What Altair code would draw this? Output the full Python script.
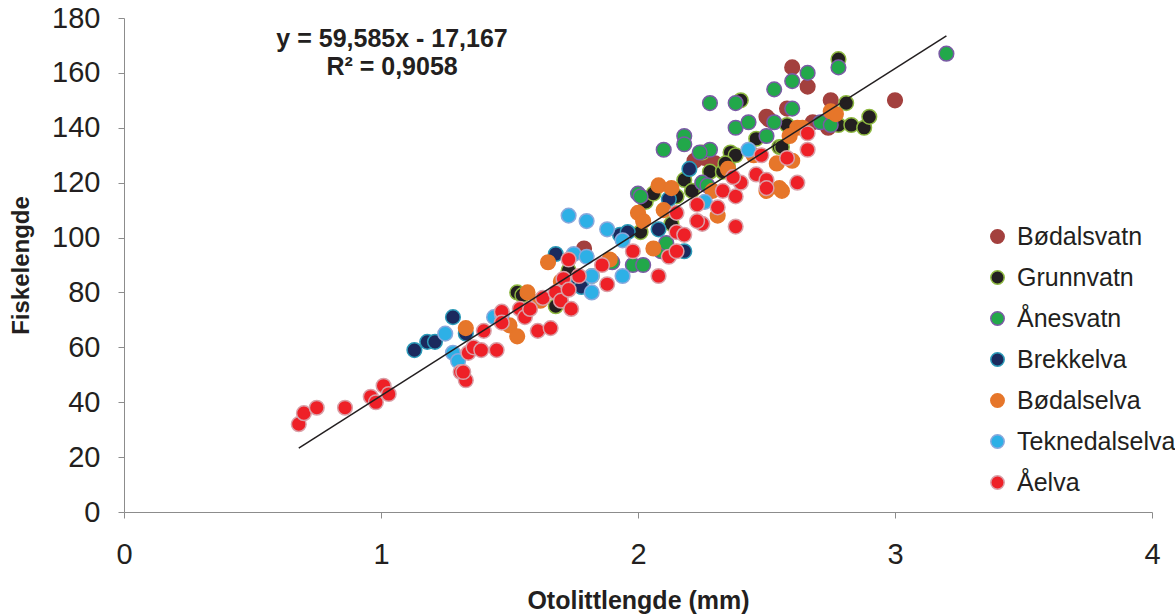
import altair as alt
import pandas as pd

# ---------------- data ----------------
sites = ["Bødalsvatn", "Grunnvatn", "Ånesvatn", "Brekkelva",
         "Bødalselva", "Teknedalselva", "Åelva"]
fill_colors = ["#A3403E", "#231F20", "#22A84A", "#1B2A5E",
               "#E6762A", "#2DB0E6", "#EE2027"]
stroke_colors = ["#A3403E", "#8DB840", "#7A5AA5", "#2B9AB8",
                 "#E6762A", "#8AA8DC", "#D9A0A8"]

bodalsvatn_x = [1.79, 2.22, 2.26, 2.30, 2.32, 2.50, 2.51, 2.58, 2.60, 2.66, 2.68, 2.74, 2.75, 3.00]
bodalsvatn_y = [96, 128, 129, 127, 125, 144, 143, 147, 162, 155, 142, 140, 150, 150]

grunnvatn_x = [1.53, 1.55, 1.68, 1.73, 1.82, 2.01, 2.03, 2.06, 2.13, 2.18, 2.21, 2.15, 2.25,
               2.28, 2.33, 2.35, 2.36, 2.38, 2.34, 2.40, 2.46, 2.55, 2.56, 2.58, 2.78,
               2.81, 2.78, 2.83, 2.88, 2.90]
grunnvatn_y = [80, 79, 75, 88, 86, 102, 113, 116, 105, 121, 117, 115, 131,
               124, 124, 126, 131, 130, 127, 150, 136, 133, 133, 141, 165,
               149, 141, 141, 140, 144]

anesvatn_x = [1.90, 1.98, 2.02, 2.09, 2.11, 2.00, 2.01, 2.10, 2.18, 2.18, 2.25, 2.27, 2.28,
              2.24, 2.28, 2.38, 2.38, 2.43, 2.50, 2.53, 2.53, 2.60, 2.60, 2.66, 2.78,
              2.71, 2.75, 3.20]
anesvatn_y = [91, 90, 90, 95, 98, 116, 115, 132, 137, 134, 120, 119, 132,
              131, 149, 149, 140, 142, 137, 142, 154, 157, 147, 160, 162,
              142, 141, 167]

brekkelva_x = [1.13, 1.18, 1.21, 1.28, 1.33, 1.68, 1.77, 1.78, 1.93, 1.96, 2.08, 2.12, 2.20, 2.18]
brekkelva_y = [59, 62, 62, 71, 65, 94, 84, 82, 101, 102, 103, 114, 125, 95]

bodalselva_x = [1.33, 1.50, 1.53, 1.57, 1.62, 1.65, 1.70, 1.89, 2.00, 2.02, 2.06, 2.08, 2.13,
                2.10, 2.31, 2.29, 2.35, 2.45, 2.50, 2.55, 2.56, 2.54, 2.60, 2.59, 2.62,
                2.64, 2.75, 2.77]
bodalselva_y = [67, 68, 64, 80, 77, 91, 84, 92, 109, 106, 96, 119, 118,
                110, 108, 117, 125, 130, 117, 118, 117, 127, 128, 137, 140,
                140, 146, 145]

teknedalselva_x = [1.25, 1.28, 1.30, 1.44, 1.47, 1.73, 1.75, 1.80, 1.80, 1.82, 1.82, 1.88,
                   1.94, 1.94, 2.26, 2.43]
teknedalselva_y = [65, 58, 55, 71, 72, 108, 94, 93, 106, 86, 80, 103,
                   99, 86, 113, 132]

aelva_x = [0.68, 0.70, 0.75, 0.86, 0.96, 0.98, 1.01, 1.03, 1.31, 1.33, 1.32, 1.34, 1.36,
           1.40, 1.45, 1.39, 1.47, 1.47, 1.54, 1.56, 1.58, 1.61, 1.66, 1.63, 1.68,
           1.70, 1.71, 1.73, 1.73, 1.74, 1.77, 1.86, 1.88, 1.98, 2.08, 2.12, 2.15,
           2.15, 2.18, 2.15, 2.23, 2.25, 2.23, 2.31, 2.33, 2.38, 2.38, 2.40, 2.37,
           2.46, 2.48, 2.50, 2.50, 2.58, 2.62, 2.66, 2.66]
aelva_y = [32, 36, 38, 38, 42, 40, 46, 43, 51, 48, 51, 58, 60,
           66, 59, 59, 73, 69, 74, 71, 74, 66, 67, 78, 80,
           77, 85, 81, 92, 74, 86, 90, 83, 95, 86, 93, 95,
           102, 101, 109, 112, 105, 106, 111, 117, 115, 104, 120, 122,
           123, 130, 121, 118, 129, 120, 138, 132]

series_x = [bodalsvatn_x, grunnvatn_x, anesvatn_x, brekkelva_x,
            bodalselva_x, teknedalselva_x, aelva_x]
series_y = [bodalsvatn_y, grunnvatn_y, anesvatn_y, brekkelva_y,
            bodalselva_y, teknedalselva_y, aelva_y]

# trend line end points
trend_x = [0.68, 3.20]
trend_y = [23.3, 173.5]

eq_text = ["y = 59,585x - 17,167", "R² = 0,9058"]
eq_x = [1.043, 1.043]
eq_y = [169.5, 159.3]

x_ticks = [0, 1, 2, 3, 4]
y_ticks = [0, 20, 40, 60, 80, 100, 120, 140, 160, 180]

# ---------------- build tables ----------------
rows = []
for order, (site, xs, ys) in enumerate(zip(sites, series_x, series_y)):
    for xv, yv in zip(xs, ys):
        rows.append({"site": site, "x": xv, "y": yv, "o": order})
df = pd.DataFrame(rows)
trend_df = pd.DataFrame({"x": trend_x, "y": trend_y})
eq_df = pd.DataFrame({"x": eq_x, "y": eq_y, "t": eq_text})

TXT = "#231F20"
GRAY = "#8C8C8C"

x_enc = alt.X("x:Q", scale=alt.Scale(domain=[0, 4], nice=False),
              axis=alt.Axis(values=x_ticks, format="d", title="Otolittlengde (mm)",
                            grid=False, tickSize=6, labelPadding=22, labelFlush=False,
                            labelFontSize=29, titleFontSize=25, titleFontWeight="bold",
                            titlePadding=19))
y_enc = alt.Y("y:Q", scale=alt.Scale(domain=[0, 180], nice=False),
              axis=alt.Axis(values=y_ticks, format="d", title="Fiskelengde",
                            grid=False, tickSize=6, labelPadding=18, labelFlush=False,
                            labelFontSize=29, titleFontSize=24, titleFontWeight="bold",
                            titlePadding=18))

points = alt.Chart(df).mark_point(shape="circle", filled=True, size=215,
                                  strokeWidth=1.5, opacity=1).encode(
    x=x_enc, y=y_enc,
    fill=alt.Fill("site:N", scale=alt.Scale(domain=sites, range=fill_colors),
                  legend=alt.Legend(title=None)),
    stroke=alt.Stroke("site:N", scale=alt.Scale(domain=sites, range=stroke_colors),
                      legend=alt.Legend(title=None)),
    order=alt.Order("o:Q"),
)

trend = alt.Chart(trend_df).mark_line(color=TXT, strokeWidth=1.5).encode(x=x_enc, y=y_enc)

eq = alt.Chart(eq_df).mark_text(fontSize=25, fontWeight="bold", align="center",
                                baseline="alphabetic", color=TXT).encode(
    x=x_enc, y=y_enc, text="t:N")

chart = alt.layer(points, trend, eq).properties(
    width=1028, height=494,
    autosize=alt.AutoSizeParams(type="none"),
    padding={"left": 124, "top": 18, "right": 23, "bottom": 103},
).configure(font="Liberation Sans").configure_view(stroke=None).configure_axis(
    domainColor=GRAY, tickColor=GRAY, labelColor=TXT, titleColor=TXT,
    labelFont="Liberation Sans", titleFont="Liberation Sans",
).configure_legend(
    orient="none", legendX=861, legendY=206,
    labelFontSize=25, labelColor=TXT, labelFont="Liberation Sans",
    symbolSize=180, symbolStrokeWidth=1.5, rowPadding=15, labelOffset=7,
    symbolType="circle",
)

chart.save("out.html", embed_options={"renderer": "svg", "actions": False})
